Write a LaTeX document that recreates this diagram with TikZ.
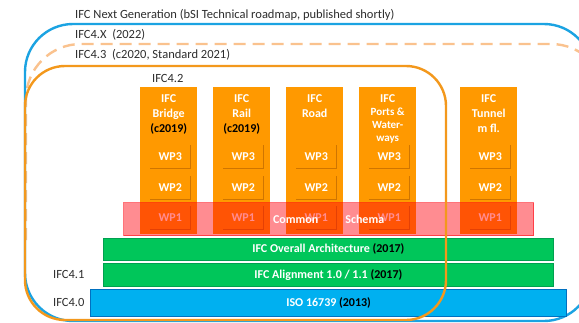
\documentclass[tikz,border=0pt]{standalone}
\usepackage{fontspec}
\setmainfont{Carlito}
\definecolor{skyline}{RGB}{27,163,226}
\definecolor{ornline}{RGB}{243,152,28}
\definecolor{peach}{RGB}{250,194,142}
\definecolor{colfill}{RGB}{255,153,0}
\definecolor{wpshade}{RGB}{196,108,0}
\definecolor{bandred}{RGB}{255,0,12}
\definecolor{grfill}{RGB}{0,198,90}
\definecolor{grline}{RGB}{0,160,80}
\definecolor{isofill}{RGB}{0,176,240}
\definecolor{isoline}{RGB}{0,112,192}
\definecolor{labelgray}{RGB}{45,45,45}
\tikzset{
  lbl/.style={anchor=west, inner sep=0pt, text=labelgray, font=\fontsize{12.5}{14}\selectfont},
  colbox/.style={anchor=north west, fill=colfill, draw=none, minimum width=57pt, minimum height=147pt, inner sep=0pt},
  coltitle/.style={anchor=north, align=center, inner sep=0pt, text=white, font=\bfseries\fontsize{12}{15}\selectfont},
  wpbox/.style={anchor=north west, minimum width=40pt, minimum height=23pt, inner sep=0pt, text=white, font=\bfseries\fontsize{12}{14}\selectfont},
  wpshadow/.style={draw=wpshade, line width=1.1pt, opacity=0.8},
  band/.style={anchor=north west, minimum width=410pt, minimum height=33pt, inner sep=0pt, fill=bandred, fill opacity=0.45, draw=bandred, draw opacity=0.55, line width=1.3pt},
  bandtext/.style={inner sep=0pt, text=white, font=\bfseries\fontsize{12}{14}\selectfont},
  greenbar/.style={anchor=north west, minimum width=450pt, inner sep=0pt, fill=grfill, draw=grline, line width=0.8pt, text=white, font=\bfseries\fontsize{12}{14}\selectfont},
  isobar/.style={anchor=north west, minimum width=476pt, minimum height=27pt, inner sep=0pt, fill=isofill, draw=isoline, line width=1.3pt, text=white, font=\bfseries\fontsize{12}{14}\selectfont},
  frame/.style={line width=2.4pt}
}
\begin{document}
\begin{tikzpicture}[x=1pt,y=-1pt]
\useasboundingbox (0,0) rectangle (579,322);
\clip (0,0) rectangle (579,322);
\fill[white] (0,0) rectangle (579,322);

% release frames
\draw[frame, peach, dash pattern=on 12pt off 7pt, rounded corners=55pt] (26,240) -- (26,44) -- (606,44) -- (606,240);
\draw[frame, skyline, rounded corners=48pt] (25,24) rectangle (592,321);

% version labels
\node[lbl] (vnext) at (75,15) {IFC Next Generation (bSI Technical roadmap, published shortly)};
\node[lbl] (v4x) at (75,35) {IFC4.X\ \ (2022)};
\node[lbl] (v43) at (75,55) {IFC4.3\ \ (c2020, Standard 2021)};
\node[lbl] (v42) at (152,78) {IFC4.2};
\node[lbl] (v41) at (53,274) {IFC4.1};
\node[lbl] (v40) at (53,302) {IFC4.0};

% domain columns with work packages
\foreach \n/\x in {Bridge/140, Rail/213, Road/286, Ports/359, Tunnel/460} {
  \node[colbox] (c\n) at (\x,87) {};
  \foreach \k/\y in {3/145, 2/176, 1/206} {
    \node[wpbox] (w\k\n) at (\x+10,\y) {WP\k};
    \draw[wpshadow] (w\k\n.north east) -- (w\k\n.south east) -- (w\k\n.south west);
  }
}
\node[coltitle] (tBridge) at ([yshift=-7pt]cBridge.north) {IFC\\Bridge\\\textcolor{black}{(c2019)}};
\node[coltitle] (tRail) at ([yshift=-7pt]cRail.north) {IFC\\Rail\\\textcolor{black}{(c2019)}};
\node[coltitle] (tRoad) at ([yshift=-7pt]cRoad.north) {IFC\\Road};
\node[coltitle, font=\bfseries\fontsize{11}{13}\selectfont] (tPorts) at ([yshift=-7pt]cPorts.north) {\fontsize{12}{13.5}\selectfont IFC\\Ports \&\\Water-\\ways};
\node[coltitle] (tTunnel) at ([yshift=-7pt]cTunnel.north) {IFC\\Tunnel\\m fl.};

% common schema band
\node[band] (common) at (123,202) {};
\node[bandtext] (commontext) at (common.center) {Common\hspace{27pt}Schema};

% base layers
\node[greenbar, minimum height=22pt] (arch) at (103,238) {IFC Overall Architecture \textcolor{black}{(2017)}};
\node[greenbar, minimum height=23pt] (alignm) at (103,263) {IFC Alignment 1.0 / 1.1 \textcolor{black}{(2017)}};
\node[isobar] (iso) at (90,289) {ISO 16739 \textcolor{black}{(2013)}};

% IFC4.3 frame on top
\draw[frame, ornline, rounded corners=40pt] (25,66) rectangle (446,320);
\end{tikzpicture}
\end{document}
